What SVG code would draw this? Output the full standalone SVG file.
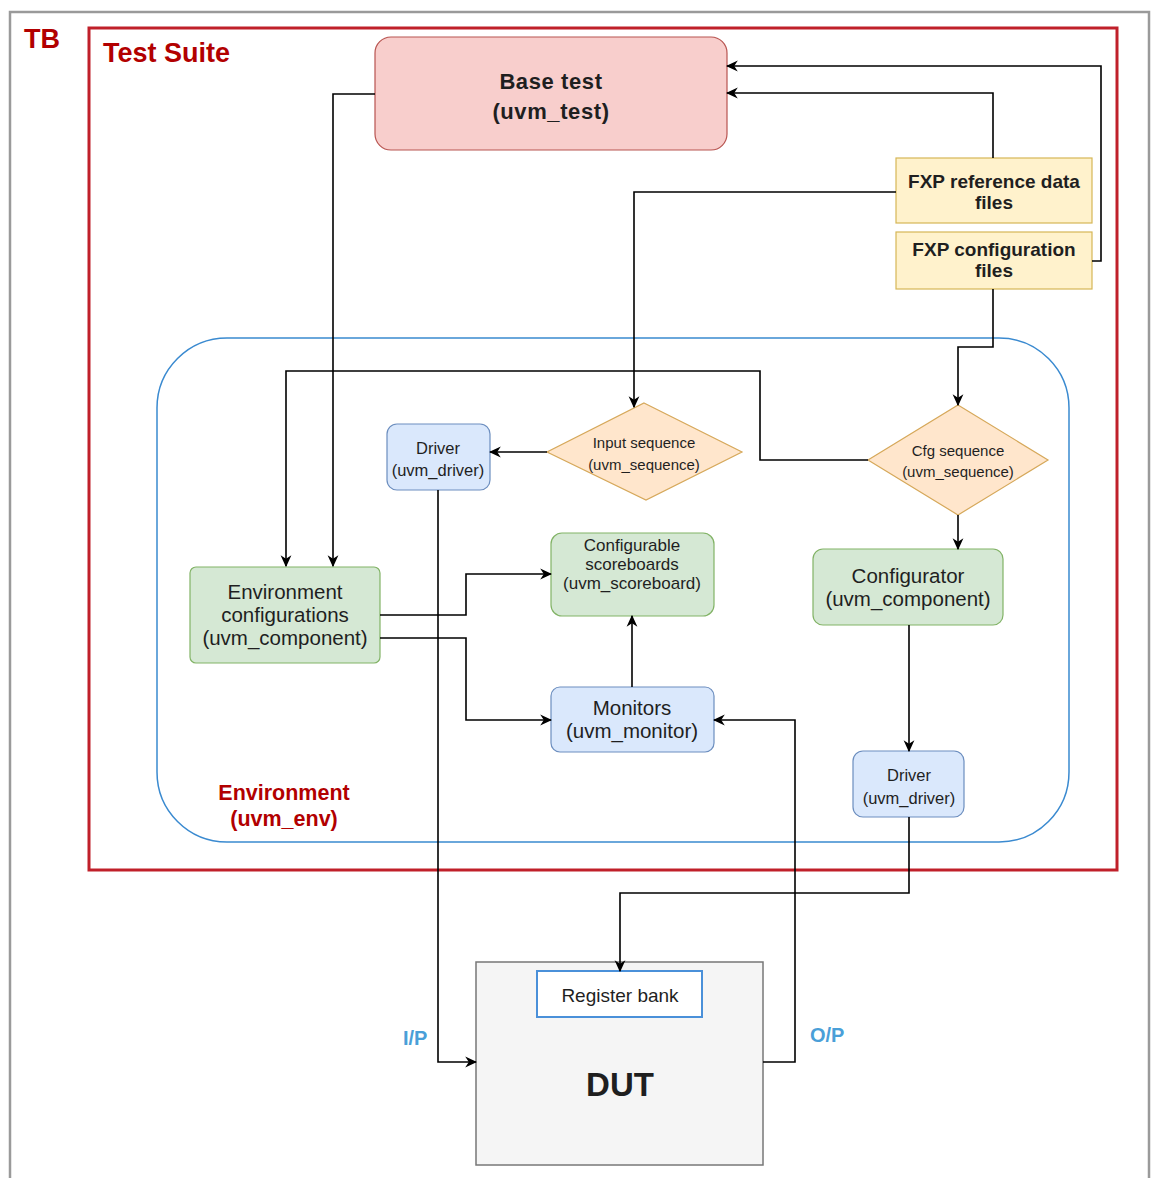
<svg xmlns="http://www.w3.org/2000/svg" width="1152" height="1178" viewBox="0 0 1152 1178">
  <style>
    text { font-family: "Liberation Sans", Arial, sans-serif; fill: #1f1f1f; text-anchor: middle; }
    .title { font-weight: bold; fill: #b20000; text-anchor: start; }
    .red { font-weight: bold; fill: #b20000; }
    .port { font-weight: bold; fill: #4a9fd8; text-anchor: start; font-size: 20px; }
    .pink { fill: #f8cecc; stroke: #b85450; stroke-width: 1.2; }
    .green { fill: #d5e8d4; stroke: #82b366; stroke-width: 1.2; }
    .blue { fill: #dae8fc; stroke: #6c8ebf; stroke-width: 1.2; }
    .yellow { fill: #fff2cc; stroke: #d6b656; stroke-width: 1.2; }
    .orange { fill: #ffe6cc; stroke: #d6a85a; stroke-width: 1.2; }
    .wire { fill: none; stroke: #000; stroke-width: 1.6; }
    .arrow { marker-end: url(#head); }
  </style>
  <defs>
    <marker id="head" viewBox="0 0 10 10" refX="9" refY="5" markerWidth="12" markerHeight="12" markerUnits="userSpaceOnUse" orient="auto">
      <path d="M0,0.5 L10,5 L0,9.5 L3,5 Z" fill="#000"/>
    </marker>
  </defs>

  <rect width="1152" height="1178" fill="#ffffff"/>

  <!-- containers -->
  <g id="tb">
    <rect x="10" y="12" width="1139" height="1190" fill="none" stroke="#9a9a9a" stroke-width="2.5"/>
    <text class="title" x="24" y="48" font-size="27">TB</text>
  </g>
  <g id="test-suite">
    <rect x="89" y="28" width="1028" height="842" fill="none" stroke="#c0202a" stroke-width="3"/>
    <text class="title" x="103" y="62" font-size="27">Test Suite</text>
  </g>
  <g id="environment">
    <rect x="157" y="338" width="912" height="504" rx="70" ry="70" fill="none" stroke="#3a8ad0" stroke-width="1.5"/>
    <text class="red" x="284" y="800" font-size="21.5">Environment</text>
    <text class="red" x="284" y="826" font-size="21.5">(uvm_env)</text>
  </g>

  <!-- nodes -->
  <g id="base-test">
    <rect class="pink" x="375" y="37" width="352" height="113" rx="16"/>
    <text x="551" y="89" font-size="22" font-weight="bold" letter-spacing="0.6">Base test</text>
    <text x="551" y="119" font-size="22" font-weight="bold" letter-spacing="0.6">(uvm_test)</text>
  </g>
  <g id="fxp-reference">
    <rect class="yellow" x="896" y="158" width="196" height="65"/>
    <text x="994" y="188" font-size="19" font-weight="bold">FXP reference data</text>
    <text x="994" y="209" font-size="19" font-weight="bold">files</text>
  </g>
  <g id="fxp-configuration">
    <rect class="yellow" x="896" y="232" width="196" height="57"/>
    <text x="994" y="256" font-size="19" font-weight="bold">FXP configuration</text>
    <text x="994" y="277" font-size="19" font-weight="bold">files</text>
  </g>
  <g id="driver-in">
    <rect class="blue" x="387" y="424" width="103" height="66" rx="10"/>
    <text x="438" y="454" font-size="16.5">Driver</text>
    <text x="438" y="476" font-size="16.5">(uvm_driver)</text>
  </g>
  <g id="input-sequence">
    <polygon class="orange" points="644,403 742,452 646,500 547,452"/>
    <text x="644" y="448" font-size="15">Input sequence</text>
    <text x="644" y="470" font-size="15">(uvm_sequence)</text>
  </g>
  <g id="cfg-sequence">
    <polygon class="orange" points="958,405 1048,460 958,515 868,460"/>
    <text x="958" y="456" font-size="15">Cfg sequence</text>
    <text x="958" y="477" font-size="15">(uvm_sequence)</text>
  </g>
  <g id="env-configurations">
    <rect class="green" x="190" y="567" width="190" height="96" rx="6"/>
    <text x="285" y="599" font-size="20.5">Environment</text>
    <text x="285" y="622" font-size="20.5">configurations</text>
    <text x="285" y="645" font-size="20.5">(uvm_component)</text>
  </g>
  <g id="scoreboards">
    <rect class="green" x="551" y="533" width="163" height="83" rx="11"/>
    <text x="632" y="551" font-size="17">Configurable</text>
    <text x="632" y="570" font-size="17">scoreboards</text>
    <text x="632" y="589" font-size="17">(uvm_scoreboard)</text>
  </g>
  <g id="monitors">
    <rect class="blue" x="551" y="687" width="163" height="65" rx="9"/>
    <text x="632" y="715" font-size="20.5">Monitors</text>
    <text x="632" y="738" font-size="20.5">(uvm_monitor)</text>
  </g>
  <g id="configurator">
    <rect class="green" x="813" y="549" width="190" height="76" rx="10"/>
    <text x="908" y="583" font-size="20.5">Configurator</text>
    <text x="908" y="606" font-size="20.5">(uvm_component)</text>
  </g>
  <g id="driver-cfg">
    <rect class="blue" x="853" y="751" width="111" height="66" rx="10"/>
    <text x="909" y="781" font-size="16.5">Driver</text>
    <text x="909" y="804" font-size="16.5">(uvm_driver)</text>
  </g>
  <g id="dut">
    <rect x="476" y="962" width="287" height="203" fill="#f5f5f5" stroke="#777" stroke-width="1.5"/>
    <text x="620" y="1096" font-size="33" font-weight="bold" fill="#333">DUT</text>
  </g>
  <g id="register-bank">
    <rect x="537" y="971" width="165" height="46" fill="#ffffff" stroke="#4a90d9" stroke-width="2"/>
    <text x="620" y="1002" font-size="19">Register bank</text>
  </g>
  <g id="port-labels">
    <text class="port" x="403" y="1045">I/P</text>
    <text class="port" x="810" y="1042">O/P</text>
  </g>

  <!-- connectors, drawn last so arrowheads sit on top of node borders -->
  <g id="connectors">
    <path class="wire arrow" d="M375,94 H333 V566"/>
    <path class="wire arrow" d="M1092,261 H1101 V66 H727"/>
    <path class="wire arrow" d="M993,158 V93 H727"/>
    <path class="wire arrow" d="M896,192 H634 V407"/>
    <path class="wire arrow" d="M993,289 V347 H958 V405"/>
    <path class="wire arrow" d="M868,460 H760 V371 H286 V566"/>
    <path class="wire arrow" d="M547,452 H490"/>
    <path class="wire arrow" d="M958,515 V549"/>
    <path class="wire arrow" d="M909,625 V751"/>
    <path class="wire arrow" d="M380,615 H466 V574 H551"/>
    <path class="wire arrow" d="M380,638 H466 V720 H551"/>
    <path class="wire arrow" d="M632,687 V616"/>
    <path class="wire arrow" d="M438,490 V1062 H476"/>
    <path class="wire arrow" d="M909,817 V893 H620 V971"/>
    <path class="wire arrow" d="M763,1062 H795 V720 H714"/>
  </g>
</svg>
